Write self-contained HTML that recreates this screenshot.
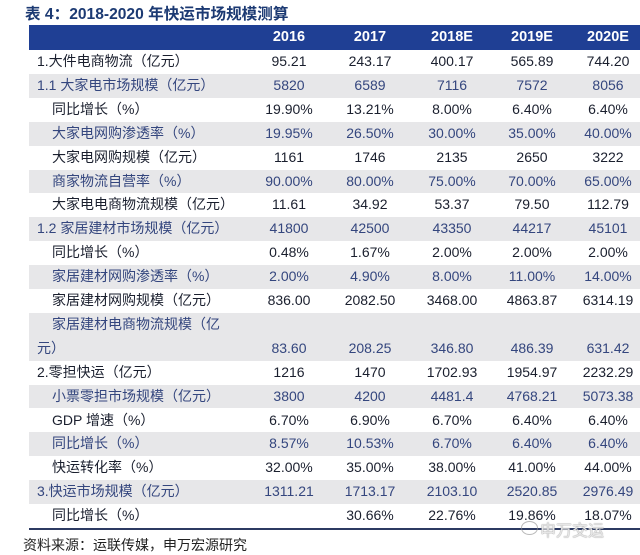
<!DOCTYPE html>
<html>
<head>
<meta charset="utf-8">
<style>
  html,body{margin:0;padding:0;}
  body{width:640px;height:555px;background:#ffffff;position:relative;overflow:hidden;
       font-family:"Liberation Sans","Noto Sans CJK SC",sans-serif;}
  .title{position:absolute;left:25px;top:5px;height:20px;line-height:20px;font-size:15.6px;font-weight:bold;color:#1c3a73;white-space:nowrap;}
  .hdr{position:absolute;left:29px;top:25px;width:611px;height:25px;background:#1f3f94;}
  .hc{position:absolute;top:0;height:25px;line-height:25px;width:90px;text-align:center;color:#fff;font-weight:bold;font-size:14.5px;}
  .row{position:absolute;left:29px;width:611px;height:23.9px;}
  .g{background:#e7e7e9;}
  .lb{position:absolute;top:0;line-height:23.9px;font-size:14px;white-space:nowrap;font-family:"Liberation Sans","Noto Sans CJK SC",sans-serif;}
  .l0{left:8px;}
  .l1{left:23px;}
  .v{position:absolute;top:0;width:90px;text-align:center;line-height:23.9px;font-size:14px;white-space:nowrap;}
  .c1{left:215px;} .c2{left:296px;} .c3{left:378px;} .c4{left:458px;} .c5{left:534px;}
  .w{color:#1a1f2e;}
  .g .lb,.g .v{color:#34467e;}
  .bl{position:absolute;left:29px;top:527.5px;width:611px;height:2px;background:#2c3a62;}
  .src{position:absolute;left:23px;top:535px;line-height:20px;font-size:14px;color:#222;white-space:nowrap;}
  .wm{position:absolute;left:540px;top:519px;font-size:16px;line-height:20px;color:rgba(255,255,255,0.75);
      text-shadow:0 0 1px #999,0 0 1px #999;white-space:nowrap;font-family:"Noto Sans CJK SC",sans-serif;}
  .wmi{position:absolute;left:521px;top:521px;width:15px;height:12px;border:1px solid rgba(140,140,140,0.6);border-radius:50%;}
</style>
</head>
<body>
<div class="title">表 4：2018-2020 年快运市场规模测算</div>

<div class="hdr">
  <div class="hc c1">2016</div>
  <div class="hc c2">2017</div>
  <div class="hc c3">2018E</div>
  <div class="hc c4">2019E</div>
  <div class="hc c5">2020E</div>
</div>

<div class="row w" style="top:50px"><span class="lb l0">1.大件电商物流（亿元）</span>
<span class="v c1">95.21</span><span class="v c2">243.17</span><span class="v c3">400.17</span><span class="v c4">565.89</span><span class="v c5">744.20</span></div>

<div class="row g" style="top:73.9px"><span class="lb l0">1.1 大家电市场规模（亿元）</span>
<span class="v c1">5820</span><span class="v c2">6589</span><span class="v c3">7116</span><span class="v c4">7572</span><span class="v c5">8056</span></div>

<div class="row w" style="top:97.8px"><span class="lb l1">同比增长（%）</span>
<span class="v c1">19.90%</span><span class="v c2">13.21%</span><span class="v c3">8.00%</span><span class="v c4">6.40%</span><span class="v c5">6.40%</span></div>

<div class="row g" style="top:121.7px"><span class="lb l1">大家电网购渗透率（%）</span>
<span class="v c1">19.95%</span><span class="v c2">26.50%</span><span class="v c3">30.00%</span><span class="v c4">35.00%</span><span class="v c5">40.00%</span></div>

<div class="row w" style="top:145.6px"><span class="lb l1">大家电网购规模（亿元）</span>
<span class="v c1">1161</span><span class="v c2">1746</span><span class="v c3">2135</span><span class="v c4">2650</span><span class="v c5">3222</span></div>

<div class="row g" style="top:169.5px"><span class="lb l1">商家物流自营率（%）</span>
<span class="v c1">90.00%</span><span class="v c2">80.00%</span><span class="v c3">75.00%</span><span class="v c4">70.00%</span><span class="v c5">65.00%</span></div>

<div class="row w" style="top:193.4px"><span class="lb l1">大家电电商物流规模（亿元）</span>
<span class="v c1">11.61</span><span class="v c2">34.92</span><span class="v c3">53.37</span><span class="v c4">79.50</span><span class="v c5">112.79</span></div>

<div class="row g" style="top:217.3px"><span class="lb l0">1.2 家居建材市场规模（亿元）</span>
<span class="v c1">41800</span><span class="v c2">42500</span><span class="v c3">43350</span><span class="v c4">44217</span><span class="v c5">45101</span></div>

<div class="row w" style="top:241.2px"><span class="lb l1">同比增长（%）</span>
<span class="v c1">0.48%</span><span class="v c2">1.67%</span><span class="v c3">2.00%</span><span class="v c4">2.00%</span><span class="v c5">2.00%</span></div>

<div class="row g" style="top:265.1px"><span class="lb l1">家居建材网购渗透率（%）</span>
<span class="v c1">2.00%</span><span class="v c2">4.90%</span><span class="v c3">8.00%</span><span class="v c4">11.00%</span><span class="v c5">14.00%</span></div>

<div class="row w" style="top:289px"><span class="lb l1">家居建材网购规模（亿元）</span>
<span class="v c1">836.00</span><span class="v c2">2082.50</span><span class="v c3">3468.00</span><span class="v c4">4863.87</span><span class="v c5">6314.19</span></div>

<div class="row g" style="top:312.9px;height:47.8px"><span class="lb l1">家居建材电商物流规模（亿</span>
<span class="lb l0" style="top:23.9px">元）</span>
<span class="v c1" style="top:23.9px">83.60</span><span class="v c2" style="top:23.9px">208.25</span><span class="v c3" style="top:23.9px">346.80</span><span class="v c4" style="top:23.9px">486.39</span><span class="v c5" style="top:23.9px">631.42</span></div>

<div class="row w" style="top:360.7px"><span class="lb l0">2.零担快运（亿元）</span>
<span class="v c1">1216</span><span class="v c2">1470</span><span class="v c3">1702.93</span><span class="v c4">1954.97</span><span class="v c5">2232.29</span></div>

<div class="row g" style="top:384.6px"><span class="lb l1">小票零担市场规模（亿元）</span>
<span class="v c1">3800</span><span class="v c2">4200</span><span class="v c3">4481.4</span><span class="v c4">4768.21</span><span class="v c5">5073.38</span></div>

<div class="row w" style="top:408.5px"><span class="lb l1">GDP 增速（%）</span>
<span class="v c1">6.70%</span><span class="v c2">6.90%</span><span class="v c3">6.70%</span><span class="v c4">6.40%</span><span class="v c5">6.40%</span></div>

<div class="row g" style="top:432.4px"><span class="lb l1">同比增长（%）</span>
<span class="v c1">8.57%</span><span class="v c2">10.53%</span><span class="v c3">6.70%</span><span class="v c4">6.40%</span><span class="v c5">6.40%</span></div>

<div class="row w" style="top:456.3px"><span class="lb l1">快运转化率（%）</span>
<span class="v c1">32.00%</span><span class="v c2">35.00%</span><span class="v c3">38.00%</span><span class="v c4">41.00%</span><span class="v c5">44.00%</span></div>

<div class="row g" style="top:480.2px"><span class="lb l0">3.快运市场规模（亿元）</span>
<span class="v c1">1311.21</span><span class="v c2">1713.17</span><span class="v c3">2103.10</span><span class="v c4">2520.85</span><span class="v c5">2976.49</span></div>

<div class="row w" style="top:504.1px"><span class="lb l1">同比增长（%）</span>
<span class="v c2">30.66%</span><span class="v c3">22.76%</span><span class="v c4">19.86%</span><span class="v c5">18.07%</span></div>

<div class="bl"></div>
<div class="wmi"></div>
<div class="wm">申万交运</div>

<div class="src">资料来源：运联传媒，申万宏源研究</div>
</body>
</html>
